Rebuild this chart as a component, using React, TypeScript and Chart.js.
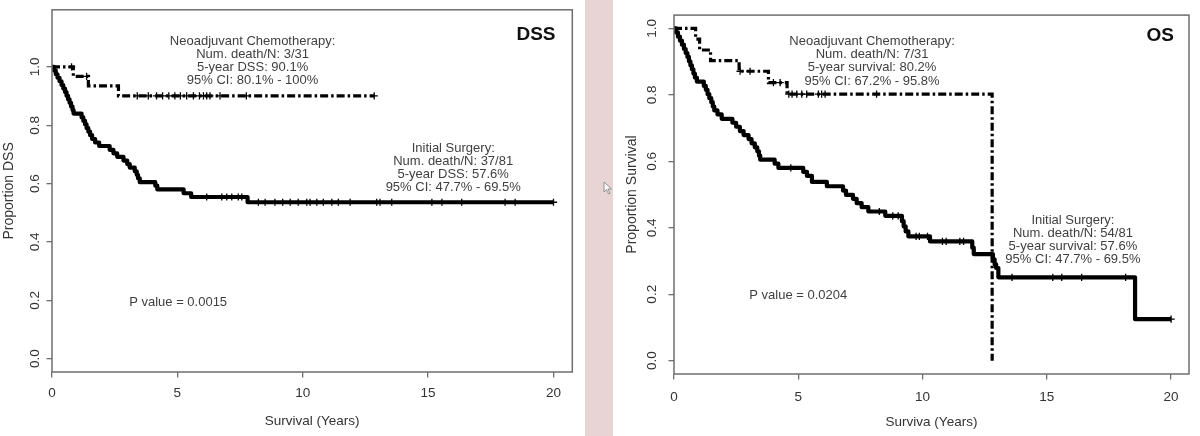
import React, { useEffect, useRef } from 'react';
import { Chart, registerables } from 'chart.js';

Chart.register(...registerables);

const FONT = '"Liberation Sans", Arial, sans-serif';

const xTicks = [0, 5, 10, 15, 20];
const yTicks = [0, 0.2, 0.4, 0.6, 0.8, 1.0];

// ---- DSS panel ----
const dssSurgeryTime = [0, 0.08, 0.15, 0.22, 0.3, 0.38, 0.45, 0.52, 0.58, 0.64, 0.7, 0.76, 0.82, 0.86, 1.18, 1.25, 1.32, 1.38, 1.45, 1.52, 1.6, 1.72, 1.88, 2.3, 2.45, 2.6, 2.85, 3.0, 3.1, 3.3, 3.38, 3.43, 3.5, 4.12, 4.2, 5.25, 5.55, 7.8, 20];
const dssSurgerySurv = [1.0, 0.988, 0.975, 0.963, 0.951, 0.938, 0.926, 0.914, 0.901, 0.889, 0.877, 0.864, 0.852, 0.84, 0.827, 0.815, 0.803, 0.79, 0.778, 0.766, 0.753, 0.741, 0.729, 0.716, 0.704, 0.692, 0.679, 0.667, 0.655, 0.642, 0.63, 0.618, 0.605, 0.593, 0.58, 0.567, 0.554, 0.536, 0.536];
const dssSurgeryCensor = [6.17, 6.77, 6.97, 7.17, 7.43, 7.57, 8.23, 8.5, 8.89, 9.2, 9.5, 9.82, 10.16, 10.29, 10.56, 10.82, 11.16, 11.42, 11.89, 12.95, 13.08, 13.55, 15.15, 15.55, 16.34, 18.07, 18.47, 20.0];
const dssNeoTime = [0, 0.85, 1.45, 2.65, 12.85];
const dssNeoSurv = [1.0, 0.968, 0.935, 0.901, 0.901];
const dssNeoCensor = [0.78, 1.38, 3.4, 3.84, 4.17, 4.41, 4.66, 4.9, 5.12, 5.37, 5.64, 5.88, 6.04, 6.17, 6.3, 6.7, 7.75, 12.85];

// ---- OS panel ----
const osSurgeryTime = [0, 0.08, 0.16, 0.24, 0.32, 0.4, 0.47, 0.54, 0.6, 0.66, 0.72, 0.78, 0.84, 0.92, 1.2, 1.28, 1.35, 1.42, 1.5, 1.56, 1.62, 1.75, 1.92, 2.35, 2.5, 2.65, 2.8, 3.0, 3.12, 3.25, 3.35, 3.42, 3.47, 4.05, 4.2, 5.2, 5.35, 5.55, 6.15, 6.8, 6.92, 7.2, 7.35, 7.55, 7.82, 8.5, 9.17, 9.24, 9.32, 9.43, 10.3, 12.0, 12.06, 12.83, 12.9, 12.96, 13.05, 18.55, 20];
const osSurgerySurv = [1.0, 0.988, 0.975, 0.963, 0.951, 0.938, 0.926, 0.914, 0.901, 0.889, 0.877, 0.864, 0.852, 0.84, 0.827, 0.815, 0.802, 0.79, 0.778, 0.765, 0.753, 0.741, 0.728, 0.716, 0.704, 0.691, 0.679, 0.667, 0.654, 0.642, 0.63, 0.617, 0.605, 0.593, 0.58, 0.568, 0.556, 0.538, 0.525, 0.512, 0.499, 0.487, 0.474, 0.462, 0.449, 0.436, 0.42, 0.404, 0.389, 0.374, 0.359, 0.34, 0.321, 0.305, 0.29, 0.279, 0.251, 0.125, 0.125];
const osSurgeryCensor = [4.7, 8.26, 8.8, 9.02, 9.74, 9.87, 10.2, 10.8, 10.95, 11.5, 11.65, 13.6, 15.24, 15.6, 16.4, 18.17, 20];
const osNeoTime = [0, 0.87, 1.03, 1.47, 2.62, 3.8, 4.55, 12.8];
const osNeoSurv = [1.0, 0.968, 0.935, 0.903, 0.871, 0.837, 0.802, 0];
const osNeoCensor = [2.66, 3.06, 4.0, 4.27, 4.62, 4.75, 4.94, 5.14, 5.34, 5.81, 5.94, 6.08, 8.15];

// ---- texts ----
const dssNeoText = ['Neoadjuvant Chemotherapy:', 'Num. death/N: 3/31', '5-year DSS: 90.1%', '95% CI: 80.1% - 100%'];
const dssSurgeryText = ['Initial Surgery:', 'Num. death/N: 37/81', '5-year DSS: 57.6%', '95% CI: 47.7% - 69.5%'];
const osNeoText = ['Neoadjuvant Chemotherapy:', 'Num. death/N: 7/31', '5-year survival: 80.2%', '95% CI: 67.2% - 95.8%'];
const osSurgeryText = ['Initial Surgery:', 'Num. death/N: 54/81', '5-year survival: 57.6%', '95% CI: 47.7% - 69.5%'];

type Panel = {
  label: string;
  pText: string;
  xTitle: string;
  yTitle: string;
  surgT: number[]; surgS: number[]; surgC: number[];
  neoT: number[]; neoS: number[]; neoC: number[];
  neoText: string[]; surgText: string[];
  neoAt: [number, number]; surgAt: [number, number]; pAt: [number, number]; labelAt: [number, number];
  xMax: number; yMin: number; yMax: number;
  yWidth: number; xHeight: number; padTop: number; padRight: number;
  yTickPad: number; yTitlePad: number; xTickPad: number; xTitlePad: number;
  width: number;
};

const stepAt = (ts: number[], ss: number[], t: number) => {
  let v = ss[0];
  for (let i = 0; i < ts.length; i++) if (ts[i] <= t) v = ss[i];
  return v;
};

function makeChart(canvas: HTMLCanvasElement, p: Panel) {
  const toXY = (ts: number[], ss: number[]) => ts.map((t, i) => ({ x: t, y: ss[i] }));
  const annot = {
    id: 'annot',
    afterDraw(chart: any) {
      const { ctx, chartArea: a } = chart;
      const x = chart.scales.x, y = chart.scales.y;
      ctx.save();
      ctx.strokeStyle = '#6e6e6e';
      ctx.lineWidth = 1.5;
      ctx.strokeRect(a.left, a.top, a.right - a.left, a.bottom - a.top);
      ctx.fillStyle = '#404040';
      ctx.textAlign = 'center';
      ctx.textBaseline = 'middle';
      ctx.font = `13px ${FONT}`;
      const block = (lines: string[], at: [number, number]) => {
        const cx = x.getPixelForValue(at[0]);
        const cy = y.getPixelForValue(at[1]);
        const lh = 13.1;
        lines.forEach((l, i) => ctx.fillText(l, cx, cy + (i - (lines.length - 1) / 2) * lh));
      };
      block(p.neoText, p.neoAt);
      block(p.surgText, p.surgAt);
      block([p.pText], p.pAt);
      ctx.fillStyle = '#111';
      ctx.font = `bold 19px ${FONT}`;
      ctx.fillText(p.label, x.getPixelForValue(p.labelAt[0]), y.getPixelForValue(p.labelAt[1]));
      ctx.restore();
    },
  };
  const grid = { display: true, drawOnChartArea: false, drawTicks: true, tickLength: 5.5, color: '#6e6e6e', lineWidth: 1.3 };
  return new Chart(canvas, {
    type: 'line',
    data: {
      datasets: [
        { data: toXY(p.surgT, p.surgS), borderColor: '#000', borderWidth: 4.2, stepped: 'before', pointRadius: 0, fill: false, borderJoinStyle: 'round' } as any,
        { data: toXY(p.neoT, p.neoS), borderColor: '#000', borderWidth: 3.2, borderDash: [8, 3, 2.5, 3], stepped: 'before', pointRadius: 0, fill: false } as any,
        { type: 'scatter', data: p.surgC.map((t) => ({ x: t, y: stepAt(p.surgT, p.surgS, t) })), pointStyle: 'cross', pointRadius: 3.6, borderColor: '#000', borderWidth: 1.3, showLine: false } as any,
        { type: 'scatter', data: p.neoC.map((t) => ({ x: t, y: stepAt(p.neoT, p.neoS, t) })), pointStyle: 'cross', pointRadius: 3.6, borderColor: '#000', borderWidth: 1.3, showLine: false } as any,
      ],
    },
    options: {
      animation: false,
      responsive: false,
      devicePixelRatio: 1,
      events: [],
      layout: { padding: { top: p.padTop, right: p.padRight, left: 0, bottom: 0 } },
      plugins: { legend: { display: false }, tooltip: { enabled: false } },
      scales: {
        x: {
          type: 'linear', min: 0, max: p.xMax,
          afterBuildTicks: (ax: any) => { ax.ticks = xTicks.map((v) => ({ value: v })); },
          afterFit: (s: any) => { s.height = p.xHeight; },
          ticks: { autoSkip: false, maxRotation: 0, padding: p.xTickPad, color: '#333', font: { family: FONT, size: 13.5 }, callback: (v: any) => String(v) },
          grid,
          border: { display: false },
          title: { display: true, text: p.xTitle, color: '#333', font: { family: FONT, size: 13.5 }, padding: { top: 0, bottom: p.xTitlePad } },
        },
        y: {
          type: 'linear', min: p.yMin, max: p.yMax,
          afterBuildTicks: (ax: any) => { ax.ticks = yTicks.map((v) => ({ value: v })); },
          afterFit: (s: any) => { s.width = p.yWidth; },
          ticks: { autoSkip: false, minRotation: 90, maxRotation: 90, crossAlign: 'center', padding: p.yTickPad, color: '#333', font: { family: FONT, size: 13.5 }, callback: (v: any) => Number(v).toFixed(1) },
          grid,
          border: { display: false },
          title: { display: true, text: p.yTitle, color: '#333', font: { family: FONT, size: 14 }, padding: { top: p.yTitlePad, bottom: 0 } },
        },
      },
    } as any,
    plugins: [annot],
  });
}

const dssPanel: Panel = {
  label: 'DSS', pText: 'P value = 0.0015', xTitle: 'Survival (Years)', yTitle: 'Proportion DSS',
  surgT: dssSurgeryTime, surgS: dssSurgerySurv, surgC: dssSurgeryCensor,
  neoT: dssNeoTime, neoS: dssNeoSurv, neoC: dssNeoCensor,
  neoText: dssNeoText, surgText: dssSurgeryText,
  neoAt: [8.0, 1.02], surgAt: [16.0, 0.654], pAt: [5.03, 0.194], labelAt: [19.3, 1.112],
  xMax: 20.75, yMin: -0.046, yMax: 1.196,
  yWidth: 52, xHeight: 64, padTop: 6, padRight: 12.7,
  yTickPad: 1.7, yTitlePad: 1.2, xTickPad: 7.7, xTitlePad: 6.5,
  width: 585,
};

const osPanel: Panel = {
  label: 'OS', pText: 'P value = 0.0204', xTitle: 'Surviva (Years)', yTitle: 'Proportion Survival',
  surgT: osSurgeryTime, surgS: osSurgerySurv, surgC: osSurgeryCensor,
  neoT: osNeoTime, neoS: osNeoSurv, neoC: osNeoCensor,
  neoText: osNeoText, surgText: osSurgeryText,
  neoAt: [7.97, 0.901], surgAt: [16.05, 0.364], pAt: [5.0, 0.197], labelAt: [19.56, 0.978],
  xMax: 20.72, yMin: -0.04, yMax: 1.04,
  yWidth: 61, xHeight: 62, padTop: 10, padRight: 11,
  yTickPad: 7, yTitlePad: 11, xTickPad: 9.7, xTitlePad: 5.2,
  width: 587,
};

function KMChart({ panel }: { panel: Panel }) {
  const ref = useRef<HTMLCanvasElement>(null);
  useEffect(() => {
    if (!ref.current) return;
    const c = makeChart(ref.current, panel);
    return () => c.destroy();
  }, [panel]);
  return <canvas ref={ref} width={panel.width} height={436} style={{ display: 'block', width: panel.width, height: 436 }} />;
}

export default function App() {
  return (
    <div style={{ position: 'absolute', left: 0, top: 0, width: 1200, height: 436, background: '#ffffff', overflow: 'hidden' }}>
      <div style={{ position: 'absolute', left: 0, top: 0 }}>
        <KMChart panel={dssPanel} />
      </div>
      <div style={{ position: 'absolute', left: 585, top: 0, width: 28, height: 436, background: '#e8d4d4' }} />
      <svg style={{ position: 'absolute', left: 603, top: 181 }} width="10" height="14" viewBox="0 0 10 14">
        <path d="M1 1 L1 11 L3.5 8.5 L5.5 13 L7 12.3 L5 8 L8.5 8 Z" fill="#fafafa" stroke="#888" strokeWidth="0.9" />
      </svg>
      <div style={{ position: 'absolute', left: 613, top: 0 }}>
        <KMChart panel={osPanel} />
      </div>
    </div>
  );
}
